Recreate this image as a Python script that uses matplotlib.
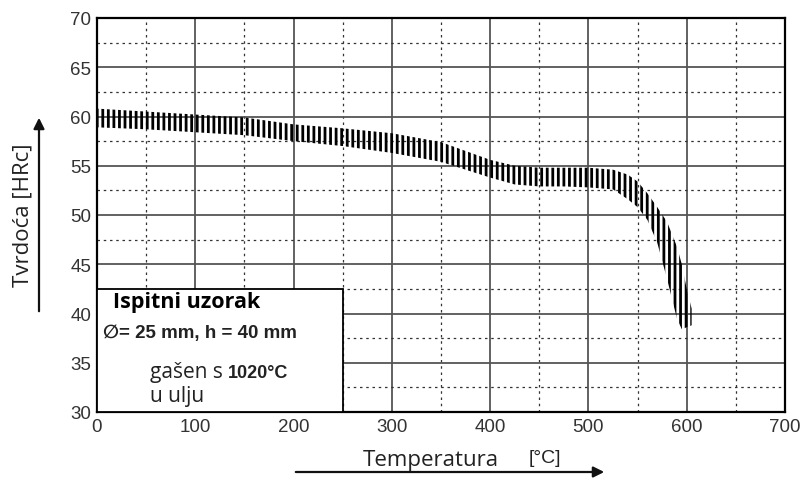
import matplotlib
matplotlib.use("Agg")
import matplotlib.pyplot as plt
from matplotlib.patches import Rectangle, FancyArrowPatch
from matplotlib.ticker import MultipleLocator

# hardness band
temp = [0, 50, 100, 150, 200, 250, 300, 350, 400, 425, 450, 475, 500, 525,
        540, 550, 560, 570, 580, 590, 595, 600, 605]
hrc_upper = [60.8, 60.5, 60.2, 59.9, 59.2, 58.8, 58.3, 57.4, 55.6, 55.0, 54.8,
             54.8, 54.8, 54.6, 54.1, 53.4, 52.2, 50.8, 49.3, 46.8, 45.0, 42.5, 40.5]
hrc_lower = [58.9, 58.7, 58.4, 58.1, 57.5, 57.0, 56.3, 55.4, 53.8, 53.1, 52.9,
             52.9, 52.8, 52.6, 51.6, 50.8, 49.5, 47.2, 43.5, 39.5, 38.4, 38.6, 38.8]

x_ticks = [0, 100, 200, 300, 400, 500, 600, 700]
y_ticks = [30, 35, 40, 45, 50, 55, 60, 65, 70]

NUM_FONT = "Liberation Sans"
TXT_FONT = "Open Sans"

plt.rcParams['hatch.linewidth'] = 2.0

fig = plt.figure(figsize=(8.08, 4.81), dpi=100)
ax = fig.add_axes([97 / 808, 68 / 481, 688 / 808, 394 / 481])

ax.set_xlim(0, 700)
ax.set_ylim(30, 70)
ax.set_xticks(x_ticks)
ax.set_yticks(y_ticks)
ax.xaxis.set_minor_locator(MultipleLocator(50))
ax.yaxis.set_minor_locator(MultipleLocator(2.5))

ax.grid(which='major', color='#555555', linewidth=1.3, linestyle='-')
ax.grid(which='minor', color='#333333', linewidth=0.9, linestyle=(0, (2, 3)))
ax.set_axisbelow(True)

ax.tick_params(which='both', length=0, pad=4)
for lab in ax.get_xticklabels() + ax.get_yticklabels():
    lab.set_fontfamily(NUM_FONT)
    lab.set_fontsize(13.5)
    lab.set_color('#333333')

for sp in ax.spines.values():
    sp.set_linewidth(1.6)
    sp.set_color('black')

# hatched band
ax.fill_between(temp, hrc_lower, hrc_upper, facecolor='none', edgecolor='black',
                hatch='|||', linewidth=0, zorder=3)

# info box
ax.add_patch(Rectangle((0, 30), 250, 12.5, facecolor='white', edgecolor='black',
                       linewidth=1.3, zorder=4))
ax.text(16, 41.2, "Ispitni uzorak", fontfamily=TXT_FONT, fontweight='bold',
        fontsize=15.5, va='center', ha='left', zorder=5)
ax.text(6, 38.1, "\u2205= 25 mm, h = 40 mm", fontfamily=[NUM_FONT, 'DejaVu Sans'],
        fontweight='bold', fontsize=13.5, va='center', ha='left', color='#222222', zorder=5)
t1 = ax.text(54, 34.1, "gašen s ", fontfamily=TXT_FONT, fontsize=15,
             va='center', ha='left', color='#222222', zorder=5)
ax.annotate("1020°C", xycoords=t1, xy=(1, 0.45), va='center', ha='left',
            fontfamily=NUM_FONT, fontweight='bold', fontsize=13, color='#222222', zorder=5)
ax.text(54, 31.7, "u ulju", fontfamily=TXT_FONT, fontsize=15,
        va='center', ha='left', color='#222222', zorder=5)

# axis labels with arrows
fig.text(23 / 808, 1 - 215 / 481, "Tvrdoća [HRc]", rotation=90, fontfamily=TXT_FONT,
         fontsize=16, ha='center', va='center', color='#222222')
fig.add_artist(FancyArrowPatch((39 / 808, 1 - 315 / 481), (39 / 808, 1 - 116 / 481),
                               transform=fig.transFigure, arrowstyle='-|>',
                               mutation_scale=16, linewidth=1.6, color='#111111'))

fig.text(431 / 808, 1 - 461 / 481, "Temperatura", fontfamily=TXT_FONT,
         fontsize=16, ha='center', va='center', color='#222222')
fig.text(545 / 808, 1 - 459 / 481, "[°C]", fontfamily=NUM_FONT,
         fontsize=14, ha='center', va='center', color='#222222')
fig.add_artist(FancyArrowPatch((293 / 808, 1 - 473 / 481), (607 / 808, 1 - 473 / 481),
                               transform=fig.transFigure, arrowstyle='-|>',
                               mutation_scale=16, linewidth=1.6, color='#111111'))

fig.savefig("out.png", dpi=100)
